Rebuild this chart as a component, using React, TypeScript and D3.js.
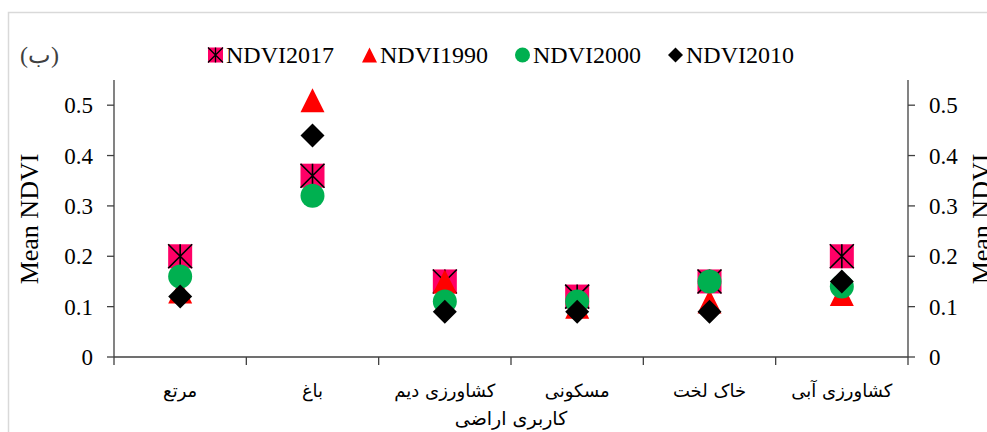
import React from "react";
import * as d3 from "d3";

const categories = ["مرتع", "باغ", "کشاورزی دیم", "مسکونی", "خاک لخت", "کشاورزی آبی"];
const ndvi2017 = [0.2, 0.36, 0.15, 0.12, 0.15, 0.2];
const ndvi1990 = [0.13, 0.51, 0.15, 0.1, 0.11, 0.125];
const ndvi2000 = [0.16, 0.32, 0.11, 0.11, 0.15, 0.14];
const ndvi2010 = [0.12, 0.44, 0.09, 0.09, 0.09, 0.15];
const yTicks = [0, 0.1, 0.2, 0.3, 0.4, 0.5];
const seriesNames = ["NDVI2017", "NDVI1990", "NDVI2000", "NDVI2010"];

const W = 987;
const H = 432;
const left = 114;
const right = 908;
const top = 80;
const bottom = 357;

const serif = "'Liberation Serif', 'Times New Roman', serif";
const arab = "'DejaVu Sans', sans-serif";

function Marker({ kind, x, y, s }: { kind: number; x: number; y: number; s: number }) {
  const h = s / 2;
  if (kind === 0) {
    return (
      <g>
        <rect x={x - h} y={y - h} width={s} height={s} fill="#FF0066" />
        <path
          d={`M${x - h},${y - h}L${x + h},${y + h}M${x + h},${y - h}L${x - h},${y + h}M${x},${y - h}L${x},${y + h}`}
          stroke="#000"
          strokeWidth={s > 18 ? 1.6 : 1.3}
        />
      </g>
    );
  }
  if (kind === 1) {
    return <path d={`M${x},${y - h}L${x + h},${y + h}L${x - h},${y + h}Z`} fill="#FF0000" />;
  }
  if (kind === 2) {
    return <circle cx={x} cy={y} r={h} fill="#00B050" />;
  }
  return <path d={`M${x},${y - h}L${x + h},${y}L${x},${y + h}L${x - h},${y}Z`} fill="#000" />;
}

export default function App() {
  const x = d3.scaleBand<string>().domain(categories).range([left, right]);
  const y = d3.scaleLinear().domain([0, 0.55]).range([bottom, top]);
  const series = [ndvi2017, ndvi1990, ndvi2000, ndvi2010];
  const catTicks = d3.range(categories.length + 1).map((i) => left + i * x.step());
  const legendX = [208, 362, 515, 668];
  const legendY = 55;

  return (
    <svg
      width={W}
      height={H}
      style={{ position: "absolute", left: 0, top: 0, background: "#fff" }}
    >
      <rect x={8.5} y={12.5} width={1000} height={500} fill="#fff" stroke="#d9d9d9" strokeWidth={1.5} />

      {/* axes */}
      <line x1={left} x2={left} y1={top} y2={bottom} stroke="#404040" strokeWidth={1.3} />
      <line x1={right} x2={right} y1={top} y2={bottom} stroke="#404040" strokeWidth={1.3} />
      <line x1={left} x2={right} y1={bottom} y2={bottom} stroke="#404040" strokeWidth={1.3} />

      {yTicks.map((t) => (
        <g key={t}>
          <line x1={left - 7} x2={left} y1={y(t)} y2={y(t)} stroke="#404040" strokeWidth={1.3} />
          <line x1={right} x2={right + 7} y1={y(t)} y2={y(t)} stroke="#404040" strokeWidth={1.3} />
          <text x={93} y={y(t)} dy="0.35em" textAnchor="end" fontFamily={serif} fontSize={23} fill="#000">
            {d3.format("")(t)}
          </text>
          <text x={929} y={y(t)} dy="0.35em" textAnchor="start" fontFamily={serif} fontSize={23} fill="#000">
            {d3.format("")(t)}
          </text>
        </g>
      ))}

      {catTicks.map((tx, i) => (
        <line key={i} x1={tx} x2={tx} y1={bottom} y2={bottom + 8} stroke="#404040" strokeWidth={1.3} />
      ))}

      {categories.map((c) => (
        <text
          key={c}
          x={x(c)! + x.bandwidth() / 2}
          y={397}
          textAnchor="middle"
          fontFamily={arab}
          fontSize={18}
          direction="rtl"
          fill="#000"
        >
          {c}
        </text>
      ))}

      <text x={511} y={425} textAnchor="middle" fontFamily={arab} fontSize={19} direction="rtl" fill="#000">
        کاربری اراضی
      </text>

      <text
        transform={`translate(38,219) rotate(-90)`}
        textAnchor="middle"
        fontFamily={serif}
        fontSize={26}
        fill="#000"
      >
        Mean NDVI
      </text>
      <text
        transform={`translate(990,219) rotate(-90)`}
        textAnchor="middle"
        fontFamily={serif}
        fontSize={26}
        fill="#000"
      >
        Mean NDVI
      </text>

      {/* points */}
      {series.map((vals, si) => (
        <g key={si}>
          {vals.map((v, i) => (
            <Marker key={i} kind={si} x={x(categories[i])! + x.bandwidth() / 2} y={y(v)} s={24} />
          ))}
        </g>
      ))}

      {/* legend */}
      {seriesNames.map((n, i) => (
        <g key={n}>
          <Marker kind={i} x={legendX[i] + 7.5} y={legendY} s={15} />
          <text x={legendX[i] + 18} y={legendY} dy="0.35em" fontFamily={serif} fontSize={24} fill="#000">
            {n}
          </text>
        </g>
      ))}

      <text x={20} y={legendY} dy="0.35em" fontFamily={serif} fontSize={24} fill="#404040">
        (ب)
      </text>
    </svg>
  );
}
